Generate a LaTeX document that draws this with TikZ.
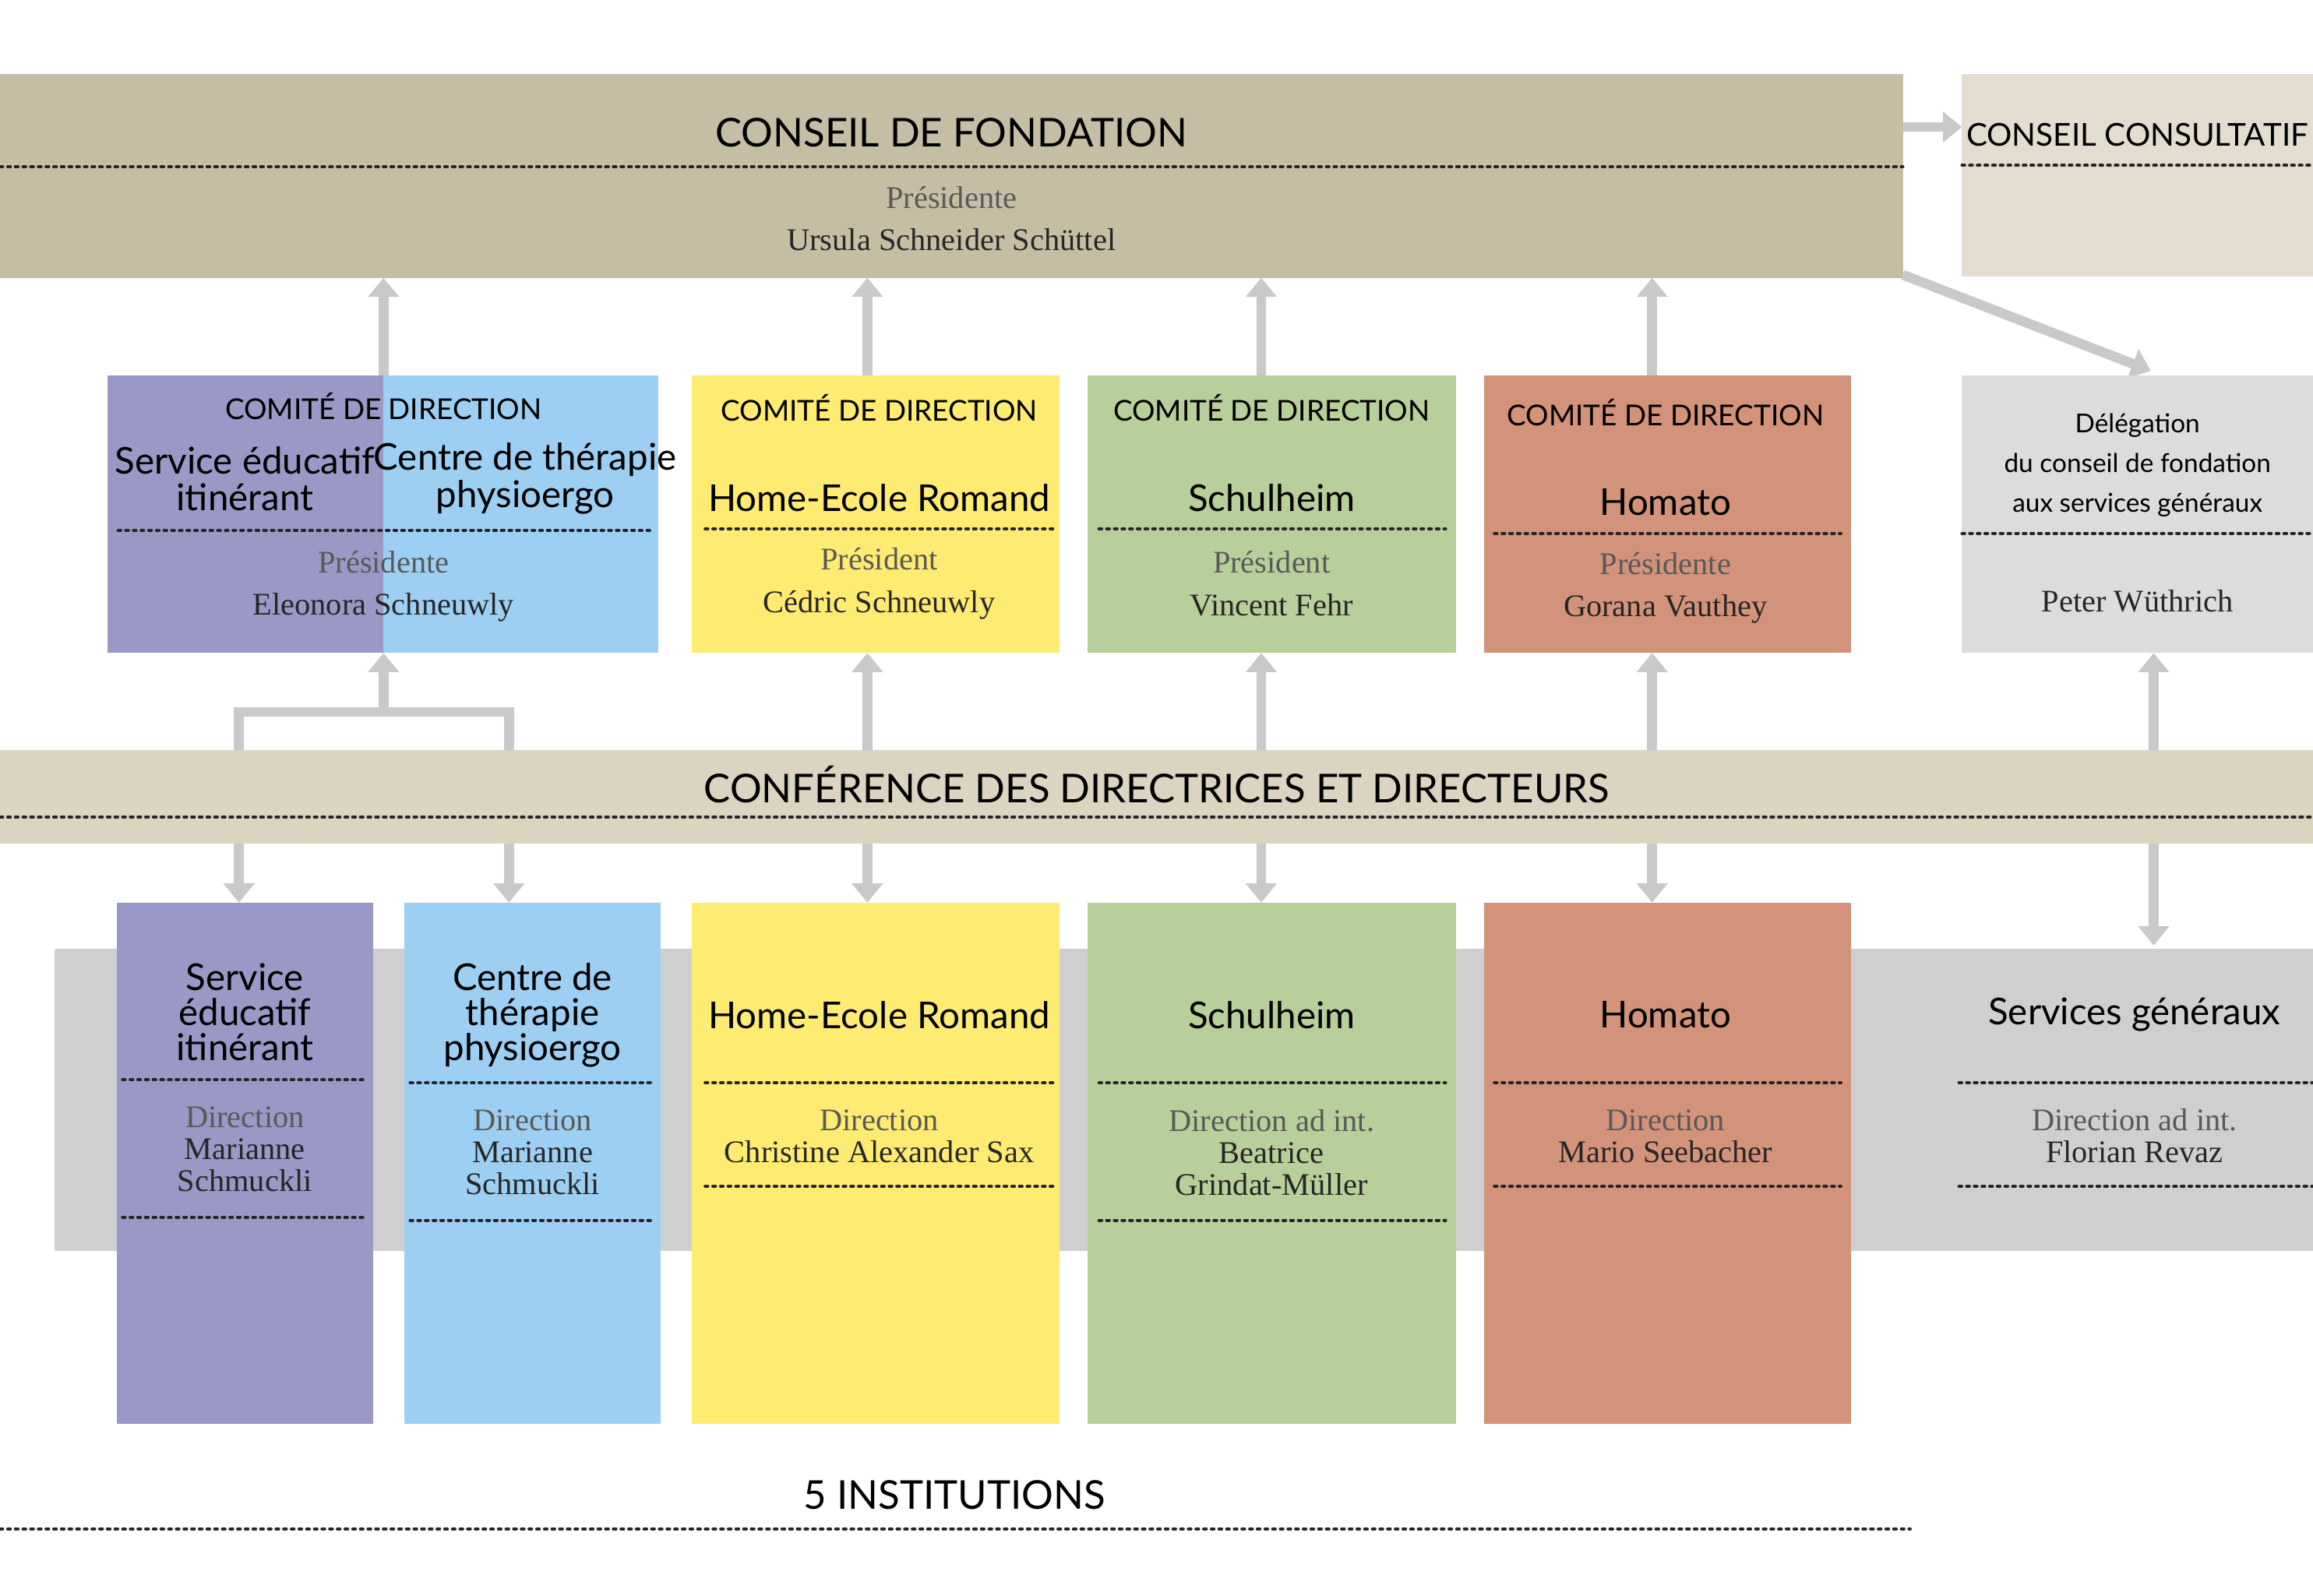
\documentclass[tikz,border=0pt]{standalone}
\usepackage{fontspec}
\setmainfont{Liberation Serif}
\newfontfamily\sansf{Lato}
\usetikzlibrary{arrows.meta}
\definecolor{cdf}{HTML}{C6BDA5}
\definecolor{ccons}{HTML}{E3DDD0}
\definecolor{conf}{HTML}{DBD4C1}
\definecolor{purp}{HTML}{9A98C6}
\definecolor{blu}{HTML}{9DCFF3}
\definecolor{yel}{HTML}{FDEC71}
\definecolor{gre}{HTML}{B7CF9A}
\definecolor{sal}{HTML}{D2937A}
\definecolor{gry}{HTML}{DCDCDC}
\definecolor{band}{HTML}{CFCFCF}
\definecolor{arr}{HTML}{C9C9C9}
\tikzset{
 dl/.style={line width=1.1pt,dash pattern=on 1pt off 1.8pt,line cap=round,black!85},
 hd/.style={font=\sansf\fontsize{14.5}{16}\selectfont,inner sep=0},
 ct/.style={font=\sansf\fontsize{10.5}{12}\selectfont,inner sep=0},
 nm/.style={font=\sansf\fontsize{13.5}{13.5}\selectfont,inner sep=0,align=center},
 sm/.style={font=\sansf\fontsize{9.5}{14.5}\selectfont,inner sep=0,align=center},
 sr/.style={font=\fontsize{11.5}{11.5}\selectfont,inner sep=0,align=center,text=black!85},
 ar/.style={draw=arr,line width=3.6pt,-{Triangle[width=11pt,length=7pt]}},
 ln/.style={draw=arr,line width=3.6pt},
}
\begin{document}
\begin{tikzpicture}[x=0.018935cm,y=-0.018963cm]
\useasboundingbox[fill=white] (0,0) rectangle (1568,1080);
% top
\fill[cdf] (0,50) rectangle (1290,188);
\node[hd] (cdf) at (645,90) {CONSEIL DE FONDATION};
\draw[dl] (0,113) -- (1290,113);
\node[sr] at (645,148) {\textcolor{black!65}{Présidente}\\[4pt]Ursula Schneider Schüttel};
\fill[ccons] (1330,50) rectangle (1568,187);
\node[ct,font=\sansf\fontsize{11.5}{12}\selectfont] (ccons) at (1449,91) {CONSEIL CONSULTATIF};
\draw[dl] (1330,112) -- (1568,112);
\coordinate (cdfR) at (1290,86); \coordinate (ccL) at (1330,86);
\draw[ar] (cdfR) -- (ccL);
\coordinate (cdfC) at (1290,186); \coordinate (delT) at (1458,251);
\draw[ar] (cdfC) -- (delT);
% comites
\fill[purp] (73,254) rectangle (260,442);
\fill[blu] (260,254) rectangle (446,442);
\node[ct] at (260,275) {COMITÉ DE DIRECTION};
\node[nm] at (166,324) {Service éducatif\\itinérant};
\node[nm] at (356,324) {Centre de thérapie\\physioergo};
\draw[dl] (80,359) -- (442,359);
\node[sr] at (260,397) {\textcolor{black!65}{Présidente}\\[4pt]Eleonora Schneuwly};
\fill[yel] (469,254) rectangle (718,442);
\node[ct] at (596,276) {COMITÉ DE DIRECTION};
\node[nm] at (596,337) {Home-Ecole Romand};
\draw[dl] (478,358) -- (714,358);
\node[sr] at (596,395) {\textcolor{black!65}{Président}\\[4pt]Cédric Schneuwly};
\fill[gre] (737,254) rectangle (987,442);
\node[ct] at (862,276) {COMITÉ DE DIRECTION};
\node[nm] at (862,337) {Schulheim};
\draw[dl] (745,358) -- (980,358);
\node[sr] at (862,395) {\textcolor{black!65}{Président}\\[4pt]Vincent Fehr};
\fill[sal] (1006,254) rectangle (1255,442);
\node[ct] at (1129,279) {COMITÉ DE DIRECTION};
\node[nm] at (1129,340) {Homato};
\draw[dl] (1013,361) -- (1248,361);
\node[sr] at (1129,398) {\textcolor{black!65}{Présidente}\\[4pt]Gorana Vauthey};
\fill[gry] (1330,254) rectangle (1568,442);
\node[sm] at (1449,315) {Délégation\\du conseil de fondation\\aux services généraux};
\draw[dl] (1330,361) -- (1568,361);
\node[sr] at (1449,407) {Peter Wüthrich};
% arrows comite -> cdf
\foreach \x in {260,588,855,1120}{
 \coordinate (a\x) at (\x,254); \coordinate (b\x) at (\x,188);
 \draw[ar] (a\x) -- (b\x);}
% conference
\fill[conf] (0,508) rectangle (1568,571);
\node[hd] (conf) at (784,531) {CONFÉRENCE DES DIRECTRICES ET DIRECTEURS};
\draw[dl] (0,553) -- (1568,553);
\foreach \x in {588,855,1120,1460}{
 \coordinate (c\x) at (\x,508); \coordinate (d\x) at (\x,442);
 \draw[ar] (c\x) -- (d\x);}
\coordinate (p1) at (162,508); \coordinate (p2) at (345,508);
\coordinate (q) at (260,482); \coordinate (qt) at (260,442);
\draw[ln,line join=miter] (p1) -- (162,482) -- (345,482) -- (p2);
\draw[ar] (q) -- (qt);
% gray band
\fill[band] (37,642) rectangle (1568,847);
\foreach \x in {162,345,588,855,1120}{
 \coordinate (e\x) at (\x,571); \coordinate (f\x) at (\x,611);
 \draw[ar] (e\x) -- (f\x);}
\coordinate (e1460) at (1460,571); \coordinate (f1460) at (1460,640);
\draw[ar] (e1460) -- (f1460);
% institutions
\fill[purp] (79,611) rectangle (253,964);
\node[nm,font=\sansf\fontsize{13.5}{12.8}\selectfont] at (166,685) {Service\\éducatif\\itinérant};
\draw[dl] (83,731) -- (249,731);
\node[sr,font=\fontsize{11.5}{11.7}\selectfont] at (166,778) {\textcolor{black!65}{Direction}\\Marianne\\Schmuckli};
\draw[dl] (83,824) -- (249,824);
\fill[blu] (274,611) rectangle (448,964);
\node[nm,font=\sansf\fontsize{13.5}{12.8}\selectfont] at (361,687) {Centre de\\thérapie\\physioergo};
\draw[dl] (278,733) -- (444,733);
\node[sr,font=\fontsize{11.5}{11.7}\selectfont] at (361,780) {\textcolor{black!65}{Direction}\\Marianne\\Schmuckli};
\draw[dl] (278,826) -- (444,826);
\fill[yel] (469,611) rectangle (718,964);
\node[nm] at (596,687) {Home-Ecole Romand};
\draw[dl] (478,733) -- (714,733);
\node[sr,font=\fontsize{11.5}{11.7}\selectfont] at (596,769) {\textcolor{black!65}{Direction}\\Christine Alexander Sax};
\draw[dl] (478,803) -- (714,803);
\fill[gre] (737,611) rectangle (987,964);
\node[nm] at (862,687) {Schulheim};
\draw[dl] (745,733) -- (980,733);
\node[sr,font=\fontsize{11.5}{11.7}\selectfont] at (862,780) {\textcolor{black!65}{Direction ad int.}\\Beatrice\\Grindat-Müller};
\draw[dl] (745,826) -- (980,826);
\fill[sal] (1006,611) rectangle (1255,964);
\node[nm] at (1129,687) {Homato};
\draw[dl] (1013,733) -- (1248,733);
\node[sr,font=\fontsize{11.5}{11.7}\selectfont] at (1129,769) {\textcolor{black!65}{Direction}\\Mario Seebacher};
\draw[dl] (1013,803) -- (1248,803);
\node[nm] at (1447,687) {Services généraux};
\draw[dl] (1328,733) -- (1568,733);
\node[sr,font=\fontsize{11.5}{11.7}\selectfont] at (1447,769) {\textcolor{black!65}{Direction ad int.}\\Florian Revaz};
\draw[dl] (1328,803) -- (1568,803);
% bottom
\node[hd] at (647,1012) {5 INSTITUTIONS};
\draw[dl] (0,1035) -- (1295,1035);
\end{tikzpicture}
\end{document}
